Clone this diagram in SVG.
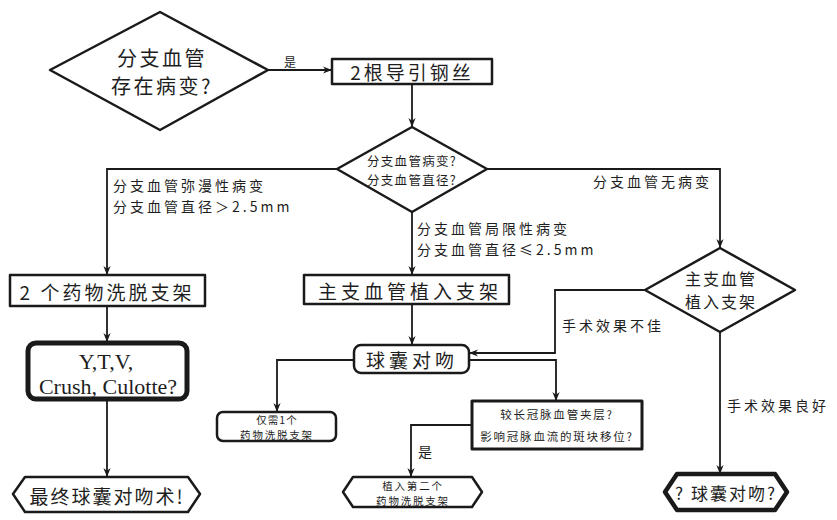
<svg xmlns="http://www.w3.org/2000/svg" width="837" height="520" viewBox="0 0 837 520">
<defs>
<marker id="ah" viewBox="0 0 10 10" refX="10" refY="5" markerWidth="9" markerHeight="9" markerUnits="userSpaceOnUse" orient="auto">
<path d="M0,1 L10,5 L0,9 L3,5 Z" fill="#1a1a1a"/>
</marker>
<style>
.sh{fill:#fff;stroke:#1a1a1a;stroke-linejoin:round}
.t{font-family:"Noto Sans CJK SC","Noto Sans",sans-serif;fill:#1e1e1e;text-anchor:middle;dominant-baseline:central}
.lb{font-family:"Noto Sans CJK SC","Noto Sans",sans-serif;fill:#1e1e1e;font-size:14px;letter-spacing:3px;dominant-baseline:central}
.c path{fill:none;stroke:#1a1a1a;stroke-width:1.8;marker-end:url(#ah)}
</style>
</defs>
<rect width="837" height="520" fill="#fff"/>
<g class="c" id="connectors">
<path d="M268,70 H332"/>
<path d="M412,84 V127"/>
<path d="M337,169 H107 V275"/>
<path d="M412,212 V275"/>
<path d="M487,169 H720 V248"/>
<path d="M107,306 V342"/>
<path d="M412,304 V345"/>
<path d="M107,400 V477"/>
<path d="M645,290 H555 V353 H469"/>
<path d="M720,332 V474"/>
<path d="M354,360 H277 V412"/>
<path d="M469,360 H556 V401"/>
<path d="M472,425 H411 V477"/>
</g>
<g id="labels">
<text class="lb" x="284" y="61" style="font-size:12px;letter-spacing:0">是</text>
<text class="lb" x="113" y="185">分支血管弥漫性病变</text>
<text class="lb" x="113" y="206">分支血管直径＞2.5mm</text>
<text class="lb" x="417" y="228">分支血管局限性病变</text>
<text class="lb" x="417" y="249">分支血管直径≤2.5mm</text>
<text class="lb" x="593" y="181">分支血管无病变</text>
<text class="lb" x="562" y="325">手术效果不佳</text>
<text class="lb" x="727" y="405">手术效果良好</text>
<text class="lb" x="418" y="451" style="letter-spacing:0">是</text>
</g>
<g id="n1">
<polygon class="sh" points="50,70 160,12 268,70 160,130" stroke-width="2.5"/>
<text class="t" x="162" y="57" font-size="20" letter-spacing="2.5">分支血管</text>
<text class="t" x="162" y="85" font-size="20" letter-spacing="2.5">存在病变?</text>
</g>
<g id="n2">
<rect class="sh" x="332" y="59" width="160" height="25" stroke-width="2.5"/>
<text class="t" x="412" y="71" font-size="19" letter-spacing="3">2根导引钢丝</text>
</g>
<g id="n3">
<polygon class="sh" points="337,169 412,127 487,169 412,212" stroke-width="2.5"/>
<text class="t" x="412" y="160" font-size="12.5" letter-spacing="1.3">分支血管病变?</text>
<text class="t" x="412" y="179" font-size="12.5" letter-spacing="1.3">分支血管直径?</text>
</g>
<g id="n4">
<rect class="sh" x="10" y="275" width="195" height="31" stroke-width="2.5"/>
<text class="t" x="107" y="291" font-size="19" letter-spacing="3">2 个药物洗脱支架</text>
</g>
<g id="n5">
<rect class="sh" x="304" y="275" width="205" height="29" stroke-width="2.5"/>
<text class="t" x="410" y="290" font-size="19" letter-spacing="4">主支血管植入支架</text>
</g>
<g id="n6">
<polygon class="sh" points="645,290 720,248 795,290 720,332" stroke-width="2.5"/>
<text class="t" x="721" y="278" font-size="16" letter-spacing="2">主支血管</text>
<text class="t" x="721" y="301" font-size="16" letter-spacing="2">植入支架</text>
</g>
<g id="n7">
<rect class="sh" x="28" y="343" width="159" height="56" rx="8" stroke-width="5"/>
<text class="t" x="106" y="361" font-size="22" style="font-family:'Liberation Serif',serif">Y,T,V,</text>
<text class="t" x="108" y="386" font-size="22" style="font-family:'Liberation Serif',serif">Crush, Culotte?</text>
</g>
<g id="n8">
<rect class="sh" x="354" y="345" width="115" height="28" rx="7" stroke-width="2.5"/>
<text class="t" x="412" y="359" font-size="19" letter-spacing="4">球囊对吻</text>
</g>
<g id="n9">
<rect class="sh" x="217" y="412" width="119" height="29" rx="6" stroke-width="2.5"/>
<text class="t" x="277" y="419" font-size="10.5" letter-spacing="1">仅需1个</text>
<text class="t" x="277" y="434" font-size="10.5" letter-spacing="1.8">药物洗脱支架</text>
</g>
<g id="n10">
<rect class="sh" x="472" y="401" width="170" height="48" stroke-width="3"/>
<text class="t" x="557" y="414" font-size="11.5" letter-spacing="1.8">较长冠脉血管夹层?</text>
<text class="t" x="557" y="436" font-size="11.5" letter-spacing="1.8">影响冠脉血流的斑块移位?</text>
</g>
<g id="n11">
<polygon class="sh" points="13,494 25,477 188,477 200,494 188,512 25,512" stroke-width="2.5"/>
<text class="t" x="107" y="495" font-size="19" letter-spacing="2">最终球囊对吻术!</text>
</g>
<g id="n12">
<polygon class="sh" points="343,492 353,477 472,477 482,492 472,507 353,507" stroke-width="2.5"/>
<text class="t" x="413" y="485" font-size="10.5" letter-spacing="1.8">植入第二个</text>
<text class="t" x="413" y="500" font-size="10.5" letter-spacing="1.8">药物洗脱支架</text>
</g>
<g id="n13">
<polygon class="sh" points="665,492 677,474 775,474 787,492 775,510 677,510" stroke-width="4.5"/>
<text class="t" x="726" y="492" font-size="17" letter-spacing="2">? 球囊对吻?</text>
</g>
</svg>
